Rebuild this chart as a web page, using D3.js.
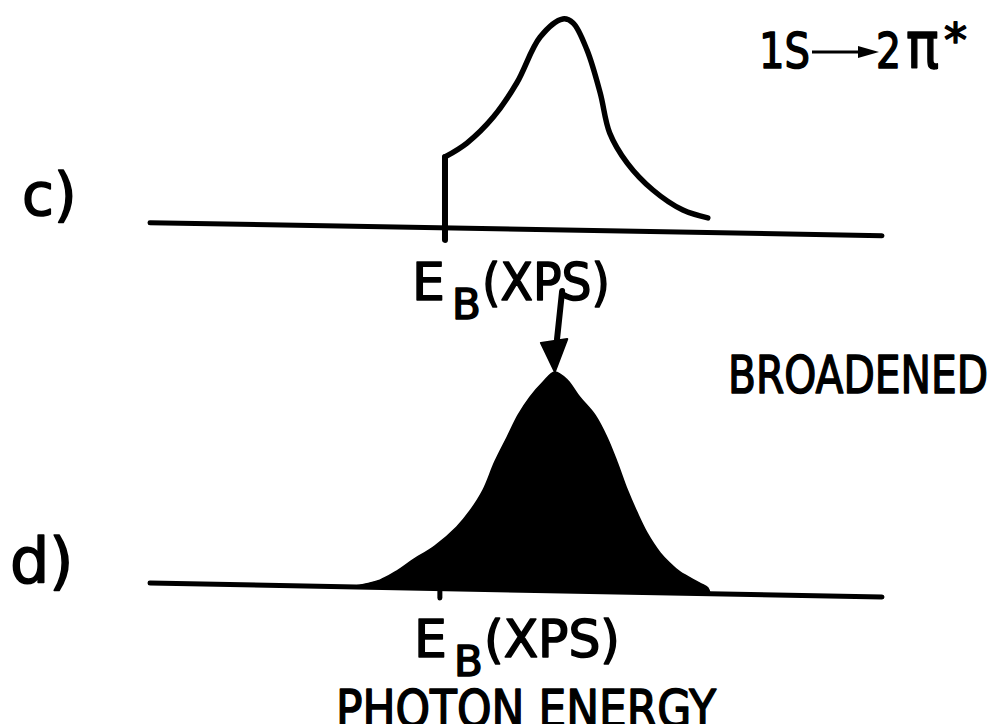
<!DOCTYPE html>
<html>
<head>
<meta charset="utf-8">
<script src="https://cdn.jsdelivr.net/npm/d3@7"></script>
<style>
  html, body { margin: 0; padding: 0; background: #fff; }
  svg { display: block; }
  text { font-family: "DejaVu Sans", "Liberation Sans", sans-serif; fill: #000;
         stroke: #000; stroke-width: 1.6px; stroke-linejoin: round; }
</style>
</head>
<body>
<svg id="chart" width="996" height="724"></svg>
<script>
// Photon energy in arbitrary units (0–100); intensity in arbitrary units (main peak ≈ 100).
const energyDomain = [0, 100];
const intensityDomain = [0, 100];

// c) 1s -> 2pi* resonance: sharp onset at the XPS binding energy, then the peak and tail
const xpsEnergyC = 40.3;
const edgeC = [[40.3, -5.7], [40.3, 33.8]];
const resonanceC = [
  [40.3, 33.8], [43.3, 40.6], [46.9, 53.2], [50.1, 69.6], [53.3, 91.7],
  [56.4, 100.5], [57.8, 98.7], [59.7, 85.9], [61.5, 65.6], [62.8, 46.6],
  [65.2, 32.4], [68.7, 19.8], [72.8, 10.5], [76.2, 7.0]
];

// d) broadened band centred on the XPS binding energy
const xpsEnergyD = 39.6;
const broadenedD = [
  [27.3, 0], [31.4, 3.5], [33.5, 7.5], [35.9, 13.4], [38.9, 20.2], [41.9, 29.5],
  [43.7, 37.2], [45.5, 47.3], [47.1, 60.8], [48.8, 72.8], [50.3, 83.4], [51.9, 92.0],
  [53.7, 99.3], [55.3, 104.2], [57.0, 100.5], [58.7, 92.5], [60.8, 84.0], [62.4, 73.7],
  [63.8, 61.9], [65.2, 48.7], [66.5, 38.3], [67.9, 28.4], [69.7, 19.0], [71.0, 14.3],
  [72.4, 10.1], [75.1, 5.0], [76.2, 2.8], [76.5, 0]
];

// Text labels
const panelLabels = ["c)", "d)"];
const transitionLabel = ["1S", "2", "π", "*"];
const xpsLabel = ["E", "B", "(XPS)"];
const broadenedLabel = "BROADENED";
const axisTitle = "PHOTON ENERGY";

const svg = d3.select("#chart");
const W = 732;
const x = d3.scaleLinear().domain(energyDomain).range([0, W]);
const y = d3.scaleLinear().domain(intensityDomain).range([0, -210]);

const deg = s => Math.atan(s) * 180 / Math.PI;

// Each panel sits on a slightly tilted baseline
const panelC = svg.append("g")
  .attr("transform", `translate(150,222.7) skewY(${deg(0.0177)})`);
const panelD = svg.append("g")
  .attr("transform", `translate(150,583.04) skewY(${deg(0.0191)})`);

const line = d3.line().x(d => x(d[0])).y(d => y(d[1]));
const smooth = d3.line().x(d => x(d[0])).y(d => y(d[1])).curve(d3.curveCatmullRom.alpha(0.5));

// Baselines
[panelC, panelD].forEach(g => {
  g.append("path")
    .attr("d", line([[energyDomain[0], 0], [energyDomain[1], 0]]))
    .attr("fill", "none").attr("stroke", "#000")
    .attr("stroke-width", 5).attr("stroke-linecap", "round");
});

// c) absorption edge and resonance
panelC.append("path")
  .attr("d", line(edgeC))
  .attr("fill", "none").attr("stroke", "#000")
  .attr("stroke-width", 6).attr("stroke-linecap", "round");
panelC.append("path")
  .attr("d", smooth(resonanceC))
  .attr("fill", "none").attr("stroke", "#000")
  .attr("stroke-width", 5.5).attr("stroke-linecap", "round").attr("stroke-linejoin", "round");

// d) filled broadened band
const area = d3.area()
  .x(d => x(d[0])).y0(y(0)).y1(d => y(d[1]))
  .curve(d3.curveCatmullRom.alpha(0.5));
panelD.append("path")
  .attr("d", area(broadenedD))
  .attr("fill", "#000").attr("stroke", "#000").attr("stroke-width", 1.5);

// d) tick at the XPS energy below the baseline
panelD.append("path")
  .attr("d", line([[xpsEnergyD, 0], [xpsEnergyD, -4.5]]))
  .attr("stroke", "#000").attr("stroke-width", 5).attr("stroke-linecap", "round");

// Arrow from the E_B(XPS) label down onto the peak of the broadened band
const peak = broadenedD.reduce((a, b) => (b[1] > a[1] ? b : a));
const tail = [peak[0] + 1.0, peak[1] + 38.6];
const headBase = [peak[0] + 0.3, peak[1] + 15.5];
panelD.append("path")
  .attr("d", line([tail, headBase]))
  .attr("stroke", "#000").attr("stroke-width", 6).attr("stroke-linecap", "round");
panelD.append("path")
  .attr("d", line([[peak[0] - 1.9, peak[1] + 13.7], [peak[0] + 1.7, peak[1] + 15.8], peak]) + "Z")
  .attr("fill", "#000").attr("stroke", "#000").attr("stroke-width", 2).attr("stroke-linejoin", "round");

// Panel letters
svg.append("text").attr("x", 22).attr("y", 215).attr("font-size", 58).text(panelLabels[0]);
svg.append("text").attr("x", 10).attr("y", 582).attr("font-size", 62).text(panelLabels[1]);

// E_B(XPS) labels under each panel
function xps(x0, yb, len) {
  svg.append("text").attr("x", x0).attr("y", yb).attr("font-size", 52).text(xpsLabel[0]);
  svg.append("text").attr("x", x0 + 40).attr("y", yb + 19).attr("font-size", 42).text(xpsLabel[1]);
  svg.append("text").attr("x", x0 + 70).attr("y", yb).attr("font-size", 52)
    .attr("textLength", len).attr("lengthAdjust", "spacingAndGlyphs").text(xpsLabel[2]);
}
xps(412, 300, 128);
xps(414, 657, 136);

// Transition label 1S -> 2pi*
svg.append("text").attr("x", 759).attr("y", 68).attr("font-size", 50)
  .attr("textLength", 51).attr("lengthAdjust", "spacingAndGlyphs").text(transitionLabel[0]);
svg.append("line").attr("x1", 812).attr("y1", 52).attr("x2", 862).attr("y2", 52)
  .attr("stroke", "#000").attr("stroke-width", 3);
svg.append("path").attr("d", "M858,46L879,52L858,58Z").attr("fill", "#000");
svg.append("text").attr("x", 876).attr("y", 68).attr("font-size", 50)
  .attr("textLength", 25).attr("lengthAdjust", "spacingAndGlyphs").text(transitionLabel[1]);
svg.append("text").attr("x", 906).attr("y", 68).attr("font-size", 66)
  .attr("textLength", 33).attr("lengthAdjust", "spacingAndGlyphs").text(transitionLabel[2]);
svg.append("text").attr("x", 944).attr("y", 56).attr("font-size", 46).text(transitionLabel[3]);

// BROADENED label, level with the top of the band
svg.append("text").attr("x", 728).attr("y", 393).attr("font-size", 52)
  .attr("textLength", 260).attr("lengthAdjust", "spacingAndGlyphs").text(broadenedLabel);

// Axis title (runs off the bottom edge)
svg.append("text").attr("x", 336).attr("y", 727).attr("font-size", 52)
  .attr("textLength", 380).attr("lengthAdjust", "spacingAndGlyphs").text(axisTitle);
</script>
</body>
</html>
